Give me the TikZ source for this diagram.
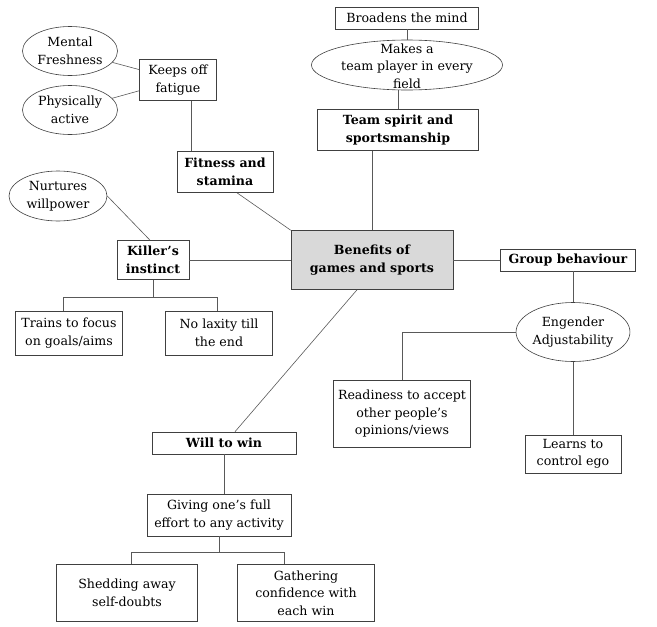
\documentclass[tikz,border=0pt]{standalone}
\usepackage{fontspec}
\setmainfont{DejaVu Serif}
\usetikzlibrary{shapes.geometric}
\begin{document}
\begin{tikzpicture}[x=1pt,y=-1pt,
  every node/.style={font=\fontsize{12.6}{17.5}\selectfont, align=center, inner sep=0pt},
  box/.style={draw=black!75, line width=0.6pt, rectangle},
  bbox/.style={box, font=\fontsize{12.6}{17.5}\selectfont\bfseries},
  oval/.style={draw=black!75, line width=0.6pt, ellipse},
  link/.style={draw=black!65, line width=0.6pt}]
\useasboundingbox (0,0) rectangle (657,627);
% nodes
\node[oval, minimum width=95, minimum height=49] (mental) at (70,51) {Mental\\Freshness};
\node[oval, minimum width=95, minimum height=49] (phys) at (70,110) {Physically\\active};
\node[box, minimum width=77, minimum height=41] (keeps) at (178,80) {Keeps off\\fatigue};
\node[bbox, minimum width=96, minimum height=41] (fit) at (225,172) {Fitness and\\stamina};
\node[oval, minimum width=98, minimum height=50] (nur) at (58,196) {Nurtures\\willpower};
\node[bbox, minimum width=72, minimum height=39] (kil) at (153,260) {Killer’s\\instinct};
\node[box, minimum width=107, minimum height=44] (trains) at (69,333) {Trains to focus\\on goals/aims};
\node[box, minimum width=107, minimum height=44] (nolax) at (219,333) {No laxity till\\the end};
\node[box, minimum width=143, minimum height=22] (broad) at (407,18) {Broadens the mind};
\node[oval, minimum width=191, minimum height=50] (makes) at (407,65) {};
\node at (407,66) {Makes a\\team player in every\\field};
\node[bbox, minimum width=161, minimum height=41] (team) at (398,130) {Team spirit and\\sportsmanship};
\node[bbox, fill=black!15, minimum width=162, minimum height=59] (ben) at (372,260) {Benefits of\\games and sports};
\node[bbox, minimum width=135, minimum height=22] (grp) at (568,260) {Group behaviour};
\node[oval, minimum width=113, minimum height=59] (eng) at (573,332) {Engender\\Adjustability};
\node[box, minimum width=137, minimum height=67] (read) at (402,414) {Readiness to accept\\other people’s\\opinions/views};
\node[box, minimum width=96, minimum height=38] (learn) at (573,454) {Learns to\\control ego};
\node[bbox, minimum width=144, minimum height=22] (will) at (224,443) {Will to win};
\node[box, minimum width=144, minimum height=42] (give) at (219,515) {Giving one’s full\\effort to any activity};
\node[box, minimum width=141, minimum height=57] (shed) at (127,593) {Shedding away\\self-doubts};
\node[box, minimum width=137, minimum height=57] (gath) at (306,593) {Gathering\\confidence with\\each win};
% connectors
\draw[link] (mental) -- (keeps);
\draw[link] (phys) -- (keeps);
\draw[link] ([xshift=13]keeps.south) -- ([xshift=13]keeps.south |- fit.north);
\draw[link] ([xshift=12]fit.south) -- (ben.north west);
\draw[link] (nur.east) -- ([xshift=-3]kil.north);
\draw[link] (kil.east) -- (ben.west);
\draw[link] (kil.south) -- ++(0,17) coordinate (kb);
\draw[link] ([xshift=-6]trains.north) |- (kb) -| ([xshift=-2]nolax.north);
\draw[link] (ben.north) -- (ben.north |- team.south);
\draw[link] (team.north) -- (team.north |- makes.south);
\draw[link] (broad.south) -- (makes.north);
\draw[link] (ben.east) -- (grp.west);
\draw[link] (eng.north) -- (eng.north |- grp.south);
\draw[link] (eng.west) -| (read.north);
\draw[link] (eng.south) -- (learn.north);
\draw[link] ([xshift=-15]ben.south) -- ([xshift=11]will.north);
\draw[link] (will.south) -- (will.south |- give.north);
\draw[link] (give.south) -- ++(0,16) coordinate (gb);
\draw[link] ([xshift=4]shed.north) |- (gb) -| ([xshift=-22]gath.north);
\end{tikzpicture}
\end{document}
